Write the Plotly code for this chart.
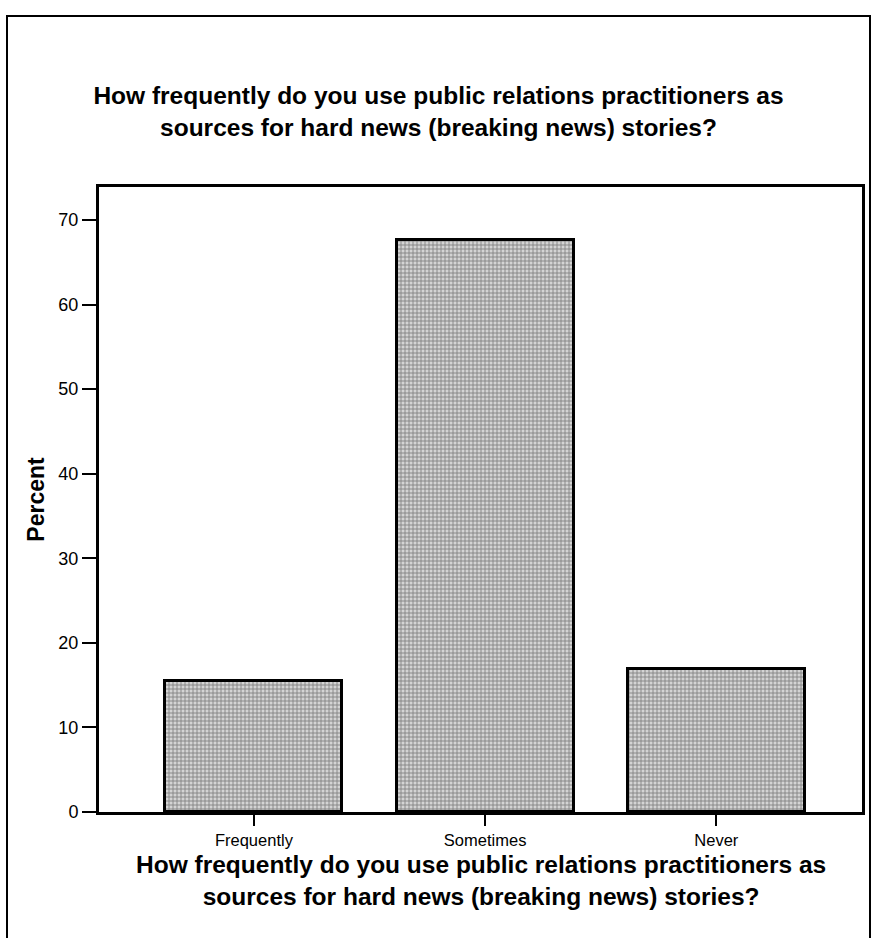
import plotly.graph_objects as go

# survey answers and their share of respondents (%)
categories = ["Frequently", "Sometimes", "Never"]
percent = [15.5, 67.6, 16.9]
y_ticks = [0, 10, 20, 30, 40, 50, 60, 70]

question = ("How frequently do you use public relations practitioners as<br>"
            "sources for hard news (breaking news) stories?")

fig = go.Figure()

fig.add_trace(go.Bar(
    x=categories,
    y=percent,
    width=0.765,
    marker=dict(
        color="#a8a8a8",
        line=dict(color="black", width=3),
        pattern=dict(shape="+", size=4, solidity=0.4,
                     fgcolor="#2e2e2e", bgcolor="#d4d4d4"),
    ),
    showlegend=False,
))

fig.update_layout(
    width=877, height=938,
    paper_bgcolor="white",
    plot_bgcolor="white",
    font=dict(family="Liberation Sans, Arial, sans-serif", color="black"),
    margin=dict(l=99, r=15, t=187, b=126),
    title=dict(
        text=question,
        x=0.5, xanchor="center",
        y=1 - 104 / 938, yanchor="middle",
        font=dict(size=24.5, weight="bold"),
    ),
    bargap=0,
)

fig.update_xaxes(
    range=[-0.67, 2.63],
    showline=True, linecolor="black", linewidth=3, mirror=True,
    ticks="outside", ticklen=11, tickwidth=2, tickcolor="black",
    tickfont=dict(size=16.5),
    showgrid=False,
)

# x axis title, placed a little tighter than plotly's own title would sit
fig.add_annotation(text=question, xref="paper", yref="paper",
                   x=0.5, y=-68 / 625, xanchor="center", yanchor="middle",
                   showarrow=False, font=dict(size=24.5, weight="bold"))

fig.update_yaxes(
    range=[0, 73.9],
    tickvals=y_ticks,
    showline=True, linecolor="black", linewidth=3, mirror=True,
    ticks="outside", ticklen=14, tickwidth=2, tickcolor="black",
    tickfont=dict(size=18),
    title=dict(text="Percent", standoff=8,
               font=dict(size=23, weight="bold")),
    showgrid=False, zeroline=False,
)

# frame around the whole page
fig.add_shape(type="rect", xref="paper", yref="paper",
              x0=-92 / 763, x1=1 + 8 / 763, y0=-140 / 625, y1=1 + 171 / 625,
              line=dict(color="black", width=2), layer="below")

fig.write_html("out.html", config={"displayModeBar": False},
               post_script="document.body.style.margin='0';")
